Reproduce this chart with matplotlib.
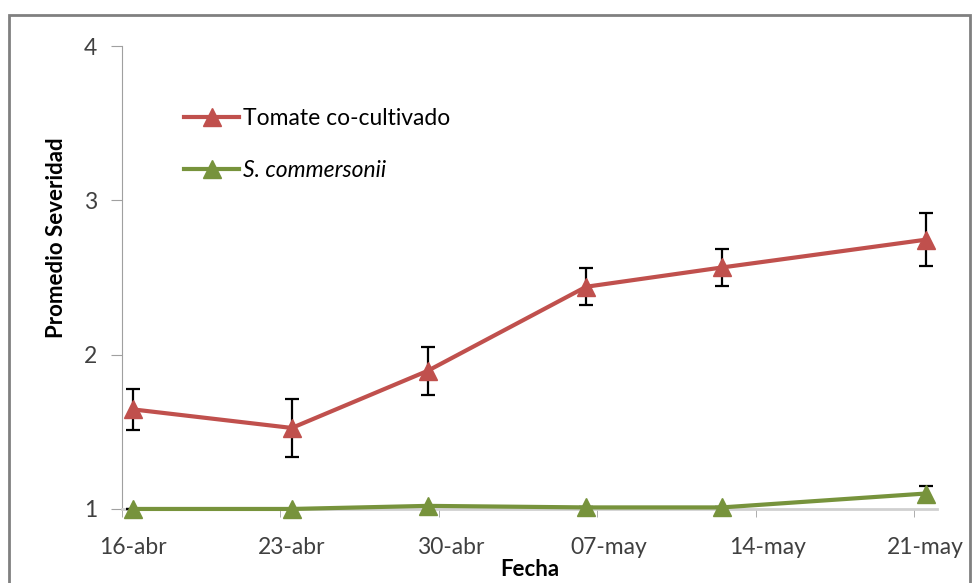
import numpy as np
import matplotlib
matplotlib.use('Agg')
import matplotlib.pyplot as plt
from matplotlib.patches import Rectangle
from matplotlib.lines import Line2D

# days counted from 16-abr (start of day)
fechas = ['16-abr', '23-abr', '29-abr', '06-may', '12-may', '21-may']
dias = [0, 7, 13, 20, 26, 35]
tomate = [1.645, 1.525, 1.895, 2.44, 2.565, 2.745]
tomate_err = [0.135, 0.19, 0.155, 0.12, 0.12, 0.17]
commersonii = [1.0, 1.0, 1.02, 1.01, 1.01, 1.10]
commersonii_err = [0.0, 0.0, 0.0, 0.0, 0.0, 0.05]

tick_labels = ['16-abr', '23-abr', '30-abr', '07-may', '14-may', '21-may']
tick_dias = [0, 7, 14, 21, 28, 35]

rojo = '#C0504D'
verde = '#77933C'

plt.rcParams['font.family'] = ['Lato', 'DejaVu Sans']

fig = plt.figure(figsize=(9.73, 5.83), dpi=100)
ax = fig.add_axes([0.1254, 0.127, 0.8376, 0.794])

# points sit in the middle of their day
x = np.array(dias) + 0.5

for y, err, col, z in [(tomate, tomate_err, rojo, 5), (commersonii, commersonii_err, verde, 4)]:
    eb = ax.errorbar(x, y, yerr=err, fmt='none', ecolor='black', elinewidth=1.6,
                     capsize=4.7, capthick=1.6, zorder=z - 0.5)
    for art in list(eb.lines[1]) + list(eb.lines[2]):
        art.set_clip_on(False)
    ax.plot(x, y, color=col, lw=3, marker='^', ms=13, zorder=z, clip_on=False)

ax.set_xlim(0, 36)
ax.set_ylim(1, 4)
ax.set_yticks([1, 2, 3, 4])

ax.set_xticks(np.array(tick_dias) + 0.5)
ax.set_xticklabels(tick_labels)
ax.set_xticks(tick_dias, minor=True)
ax.tick_params(axis='x', which='major', length=0, pad=20, labelsize=16.5,
               labelcolor='#404040')
ax.tick_params(axis='x', which='minor', length=6, color='#A0A0A0', direction='out')
ax.tick_params(axis='y', length=8, color='#A0A0A0', labelsize=16.5,
               labelcolor='#404040', pad=10)

for s in ['top', 'right']:
    ax.spines[s].set_visible(False)
ax.spines['left'].set_color('#A0A0A0')
ax.spines['bottom'].set_color('#D0D0D0')
ax.spines['bottom'].set_linewidth(2)

ax.set_ylabel('Promedio Severidad', fontsize=16, fontweight='bold')
ax.yaxis.set_label_coords(-0.068, 0.587)
ax.set_xlabel('Fecha', fontsize=16, fontweight='bold', labelpad=1)

handles = [Line2D([], [], color=rojo, lw=3, marker='^', ms=13),
           Line2D([], [], color=verde, lw=3, marker='^', ms=13)]
labels = ['Tomate co-cultivado', 'S. commersonii']
leg = ax.legend(handles, labels, loc='upper left', bbox_to_anchor=(0.065, 0.885),
                frameon=False, fontsize=16.5, handlelength=2.4, handletextpad=0.15,
                labelspacing=1.35, borderaxespad=0)
leg.get_texts()[1].set_style('italic')

fig.patches.append(Rectangle((0.009, -0.01), 0.988, 0.985, transform=fig.transFigure,
                             fill=False, edgecolor='#808080', lw=2))

fig.savefig('out.png', dpi=100)
